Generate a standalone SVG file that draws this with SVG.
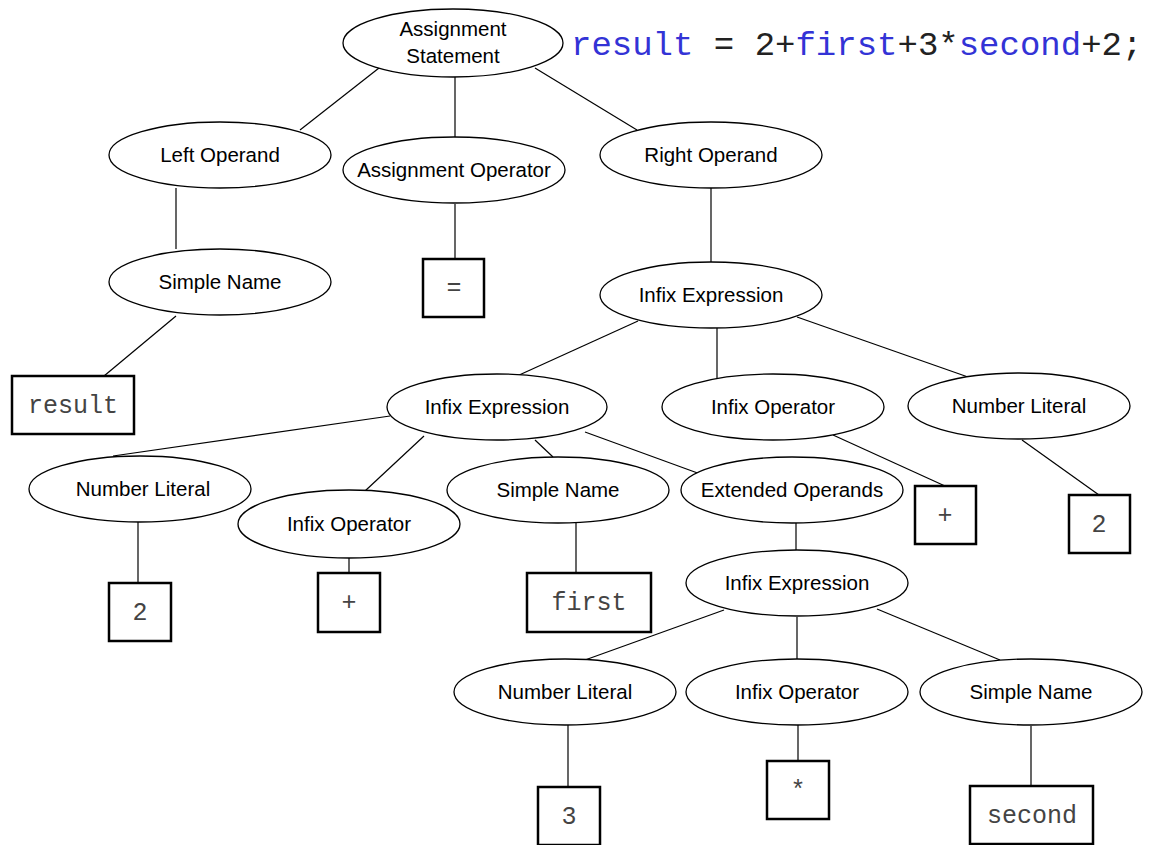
<svg xmlns="http://www.w3.org/2000/svg" width="1149" height="845" viewBox="0 0 1149 845">
<style>
.n{fill:#fff;stroke:#000;stroke-width:1.3}
.b{fill:#fff;stroke:#000;stroke-width:2.5}
.t{font-family:"Liberation Sans",Arial,sans-serif;font-size:20.5px;text-anchor:middle;fill:#000}
.m{font-family:"Liberation Mono","Courier New",monospace;font-size:25px;text-anchor:middle;fill:#444}
.c{font-family:"Liberation Mono","Courier New",monospace;font-size:34px;fill:#222}
.k{fill:#3333d6}
#edges line{stroke:#000;stroke-width:1.2}
</style>
<rect width="1149" height="845" fill="#fff"/>
<g id="edges">
<line x1="379" y1="68" x2="300" y2="130"/>
<line x1="455" y1="77" x2="455" y2="137"/>
<line x1="535" y1="68" x2="637" y2="130"/>
<line x1="176" y1="188" x2="176" y2="249"/>
<line x1="455" y1="204" x2="455" y2="259"/>
<line x1="711" y1="188" x2="711" y2="262"/>
<line x1="176" y1="316" x2="104" y2="376"/>
<line x1="638" y1="321" x2="517" y2="376"/>
<line x1="717" y1="328" x2="717" y2="380"/>
<line x1="797" y1="317" x2="968" y2="377"/>
<line x1="390" y1="416" x2="113" y2="456"/>
<line x1="424" y1="436" x2="365" y2="491"/>
<line x1="535" y1="440" x2="553" y2="457"/>
<line x1="585" y1="432" x2="703" y2="475"/>
<line x1="138" y1="522" x2="138" y2="583"/>
<line x1="349" y1="558" x2="349" y2="573"/>
<line x1="576" y1="523" x2="576" y2="573"/>
<line x1="796" y1="523" x2="796" y2="550"/>
<line x1="833" y1="435" x2="945" y2="486"/>
<line x1="1022" y1="440" x2="1099" y2="495"/>
<line x1="724" y1="610" x2="585" y2="660"/>
<line x1="797" y1="617" x2="797" y2="659"/>
<line x1="877" y1="609" x2="1000" y2="660"/>
<line x1="568" y1="725" x2="568" y2="787"/>
<line x1="798" y1="725" x2="798" y2="761"/>
<line x1="1031" y1="726" x2="1031" y2="786"/>
</g>
<g id="assign-stmt"><ellipse class="n" cx="453" cy="43" rx="110" ry="34"/><text class="t" x="453" y="36">Assignment</text><text class="t" x="453" y="63">Statement</text></g>
<g id="code"><text class="c" x="571" y="55"><tspan class="k">result</tspan> = 2+<tspan class="k">first</tspan>+3*<tspan class="k">second</tspan>+2;</text></g>
<g id="left-operand"><ellipse class="n" cx="220" cy="155" rx="111" ry="33"/><text class="t" x="220" y="162">Left Operand</text></g>
<g id="assign-op"><ellipse class="n" cx="454" cy="170" rx="111" ry="33"/><text class="t" x="454" y="177">Assignment Operator</text></g>
<g id="right-operand"><ellipse class="n" cx="711" cy="155" rx="111" ry="33"/><text class="t" x="711" y="162">Right Operand</text></g>
<g id="simple-name-1"><ellipse class="n" cx="220" cy="282" rx="111" ry="33"/><text class="t" x="220" y="289">Simple Name</text></g>
<g id="eq-box"><rect class="b" x="423" y="259" width="61" height="58"/><text class="m" x="454" y="295">=</text></g>
<g id="infix-1"><ellipse class="n" cx="711" cy="295" rx="111" ry="33"/><text class="t" x="711" y="302">Infix Expression</text></g>
<g id="result-box"><rect class="b" x="12" y="376" width="122" height="58"/><text class="m" x="73" y="413">result</text></g>
<g id="infix-2"><ellipse class="n" cx="497" cy="407" rx="110" ry="33"/><text class="t" x="497" y="414">Infix Expression</text></g>
<g id="infix-op-1"><ellipse class="n" cx="773" cy="407" rx="111" ry="33"/><text class="t" x="773" y="414">Infix Operator</text></g>
<g id="num-lit-1"><ellipse class="n" cx="1019" cy="406" rx="111" ry="33"/><text class="t" x="1019" y="413">Number Literal</text></g>
<g id="num-lit-2"><ellipse class="n" cx="140" cy="489" rx="111" ry="33"/><text class="t" x="143" y="496">Number Literal</text></g>
<g id="infix-op-2"><ellipse class="n" cx="349" cy="524" rx="111" ry="34"/><text class="t" x="349" y="531">Infix Operator</text></g>
<g id="simple-name-2"><ellipse class="n" cx="558" cy="490" rx="111" ry="33"/><text class="t" x="558" y="497">Simple Name</text></g>
<g id="ext-operands"><ellipse class="n" cx="792" cy="490" rx="111" ry="33"/><text class="t" x="792" y="497">Extended Operands</text></g>
<g id="plus-box-1"><rect class="b" x="915" y="486" width="61" height="58"/><text class="m" x="945" y="523">+</text></g>
<g id="two-box-1"><rect class="b" x="1069" y="495" width="61" height="58"/><text class="m" x="1099" y="532">2</text></g>
<g id="two-box-2"><rect class="b" x="109" y="583" width="62" height="58"/><text class="m" x="140" y="620">2</text></g>
<g id="plus-box-2"><rect class="b" x="318" y="573" width="62" height="59"/><text class="m" x="349" y="610">+</text></g>
<g id="first-box"><rect class="b" x="527" y="573" width="124" height="59"/><text class="m" x="589" y="610">first</text></g>
<g id="infix-3"><ellipse class="n" cx="797" cy="583" rx="111" ry="33"/><text class="t" x="797" y="590">Infix Expression</text></g>
<g id="num-lit-3"><ellipse class="n" cx="565" cy="692" rx="111" ry="33"/><text class="t" x="565" y="699">Number Literal</text></g>
<g id="infix-op-3"><ellipse class="n" cx="797" cy="692" rx="111" ry="33"/><text class="t" x="797" y="699">Infix Operator</text></g>
<g id="simple-name-3"><ellipse class="n" cx="1031" cy="692" rx="111" ry="33"/><text class="t" x="1031" y="699">Simple Name</text></g>
<g id="three-box"><rect class="b" x="538" y="787" width="62" height="58"/><text class="m" x="569" y="824">3</text></g>
<g id="star-box"><rect class="b" x="767" y="761" width="62" height="58"/><text class="m" x="798" y="798">*</text></g>
<g id="second-box"><rect class="b" x="970" y="786" width="123" height="58"/><text class="m" x="1032" y="823">second</text></g>
</svg>
